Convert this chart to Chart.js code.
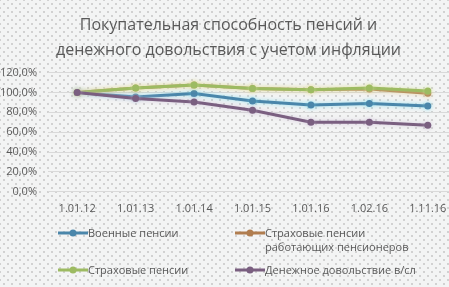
<!DOCTYPE html>
<html>
<head>
<meta charset="utf-8">
<script src="https://cdn.jsdelivr.net/npm/chart.js@4/dist/chart.umd.min.js"></script>
<style>
  html, body { margin: 0; padding: 0; }
  body {
    width: 449px; height: 287px; overflow: hidden; position: relative;
    background-color: #f3f4f4;
    background-image:
      radial-gradient(circle, #a8a8a8 0.6px, transparent 0.8px),
      radial-gradient(circle, #a8a8a8 0.6px, transparent 0.8px);
    background-size: 8px 8px, 8px 8px;
    background-position: 0 0, 4px 4px;
    font-family: "Open Sans", sans-serif;
  }
  #wrap { position: absolute; left: 0; top: 0; width: 468px; height: 287px; }
  #legend { position: absolute; left: 0; top: 0; }
  .item { position: absolute; font-size: 11px; color: #595959; line-height: 14px; }
  .item svg { position: absolute; left: 0; top: 2px; }
  .item span { position: absolute; left: 30px; top: 0; white-space: nowrap; }
</style>
</head>
<body>
<div id="wrap"><canvas id="chart" width="468" height="287"></canvas></div>
<div id="legend"></div>
<script>
// data
const labels = ['1.01.12', '1.01.13', '1.01.14', '1.01.15', '1.01.16', '1.02.16', '1.11.16'];
const military = [100, 95.5, 99, 91.5, 87.3, 88.8, 86.5];
const workingInsurance = [100, 104.5, 107.5, 104, 102.7, 103.5, 99.3];
const insurance = [100, 104.5, 107.5, 104, 102.7, 104.5, 101.5];
const allowance = [100, 94, 90.5, 82, 70, 70, 67];

const titleLines = ['Покупательная способность пенсий и', 'денежного довольствия с учетом инфляции'];

const series = [
  { name: ['Военные пенсии'], data: military, color: '#4a86aa', glow: 'rgba(120,220,240,0.7)', order: 4, x: 58, y: 226 },
  { name: ['Страховые пенсии', 'работающих пенсионеров'], data: workingInsurance, color: '#b07d4f', glow: 'rgba(240,190,130,0.6)', order: 3, x: 235, y: 226 },
  { name: ['Страховые пенсии'], data: insurance, color: '#9dbb62', glow: 'rgba(215,240,170,0.7)', order: 2, x: 58, y: 263 },
  { name: ['Денежное довольствие в/сл'], data: allowance, color: '#7a5f80', glow: 'rgba(200,180,210,0.6)', order: 1, x: 235, y: 263 }
];

const glowPlugin = {
  id: 'glow',
  beforeDatasetDraw(chart, args) {
    const s = series[args.index];
    chart.ctx.save();
    chart.ctx.shadowColor = s.glow;
    chart.ctx.shadowBlur = 4;
  },
  afterDatasetDraw(chart) {
    chart.ctx.restore();
  }
};

const ctx = document.getElementById('chart');

new Chart(ctx, {
  type: 'line',
  data: {
    labels: labels,
    datasets: series.map(s => ({
      label: s.name.join(' '),
      data: s.data,
      borderColor: s.color,
      backgroundColor: s.color,
      borderWidth: 3,
      pointRadius: 3.5,
      pointBorderWidth: 0,
      tension: 0,
      order: s.order
    }))
  },
  options: {
    responsive: false,
    animation: false,
    devicePixelRatio: 1,
    layout: { padding: { left: 0, right: 11, bottom: 70 } },
    plugins: {
      legend: { display: false },
      tooltip: { enabled: false },
      title: {
        display: true,
        text: titleLines,
        color: '#595959',
        font: { family: 'Open Sans', size: 16, weight: 'normal', lineHeight: 1.55 },
        padding: { top: 13, bottom: 10 }
      }
    },
    scales: {
      x: {
        offset: true,
        grid: { display: false },
        border: { display: false },
        ticks: { color: '#595959', font: { family: 'Open Sans', size: 11 }, padding: 2, maxRotation: 0, autoSkip: false }
      },
      y: {
        min: 0,
        max: 120,
        afterFit(scale) { scale.width = 48; },
        grid: { color: '#d9d9d9', lineWidth: 1, drawTicks: false },
        border: { display: false },
        ticks: {
          stepSize: 20,
          color: '#595959',
          padding: 11,
          font: { family: 'Open Sans', size: 11 },
          callback: v => v.toFixed(1).replace('.', ',') + '%'
        }
      }
    }
  },
  plugins: [glowPlugin]
});

// legend laid out like the reference (two columns, wrapped label)
const legend = document.getElementById('legend');
series.forEach(s => {
  const div = document.createElement('div');
  div.className = 'item';
  div.style.left = s.x + 'px';
  div.style.top = s.y + 'px';
  div.innerHTML =
    '<svg width="30" height="10"><line x1="0" y1="5" x2="30" y2="5" stroke="' + s.color +
    '" stroke-width="3"/><circle cx="15" cy="5" r="3.5" fill="' + s.color + '"/></svg>' +
    '<span>' + s.name.join('<br>') + '</span>';
  legend.appendChild(div);
});
</script>
</body>
</html>
